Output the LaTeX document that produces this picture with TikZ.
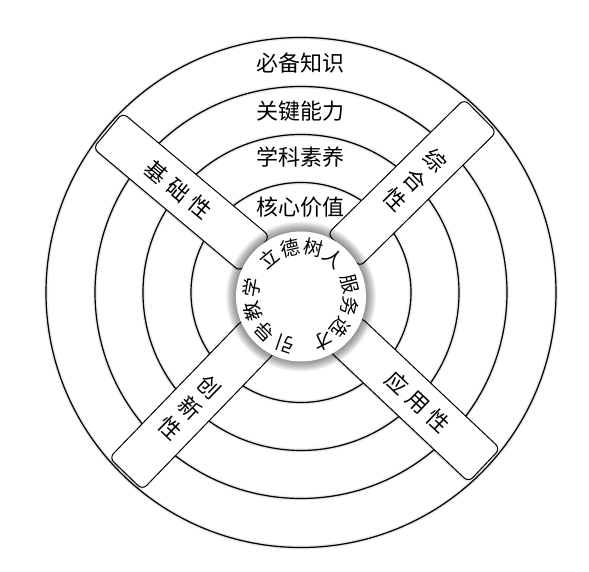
\documentclass[tikz,border=0pt]{standalone}
\usepackage{fontspec}
\setmainfont{Noto Sans CJK SC}
\usepackage{tikz}
\usetikzlibrary{shadows}
\tikzstyle{ring}=[draw=black,line width=0.6pt]
\tikzstyle{ringshade}=[draw=black,opacity=0.08,line width=2pt]
\tikzstyle{bar}=[draw=black,fill=white,line width=0.5pt,rounded corners=3pt,drop shadow={opacity=0.3,shadow xshift=-0.6pt,shadow yshift=-0.6pt}]
\tikzstyle{tier}=[inner sep=0pt,font=\fontsize{11}{13}\selectfont]
\tikzstyle{word}=[inner sep=0pt,font=\fontsize{9.6}{11}\selectfont]
\tikzstyle{hub}=[circle,fill=white,inner sep=0pt,minimum size=65pt]

\begin{document}
\begin{tikzpicture}[x=0.5pt,y=0.5pt]
      \useasboundingbox (-301,-279.5) rectangle (288,292.5);
      \foreach \r in {255,206,158,110}{
        \draw[ringshade] (0,0) circle[radius=\r];
        \draw[ringshade,line width=1pt] (0,0) circle[radius=\r];
        \draw[ring] (0,0) circle[radius=\r];
      }

      \foreach \a in {140,44.6,-43.3,-134}{
        \draw[bar,rotate=\a] (60,-23) rectangle (252,23);
      }

      \foreach \a/\t/\s [count=\i] in {140/-40/{性,础,基},44.6/-45.4/{性,合,综},-43.3/-43.3/{应,用,性},-134/-44/{创,新,性}}{
        \foreach \ch [count=\j] in \s{
          \node[word,font=\fontsize{11}{13}\selectfont,rotate=\t] (b\i\j) at (\a:104+28*\j) {\ch};
        }
      }

      \foreach \t/\y [count=\i] in {必备知识/229.5,关键能力/181,学科素养/135,核心价值/85}{
        \node[tier] (t\i) at (0,\y) {\t};
      }

      \begin{scope}[shift={(0,-4)}]
        \foreach \k in {1,...,10}{
          \fill[black,opacity=0.05] (0,0) circle[radius=65+\k];
        }
        \node[hub] (hub) at (0,0) {};
        \foreach \ch/\a [count=\i] in {立/130,德/103,树/76,人/49,服/14,务/-12,选/-38,才/-64,引/-109,导/-136,教/-163,学/-190}{
          \node[word,rotate=\a-90] (h\i) at (\a:50) {\ch};
        }
      \end{scope}
\end{tikzpicture}
\end{document}
